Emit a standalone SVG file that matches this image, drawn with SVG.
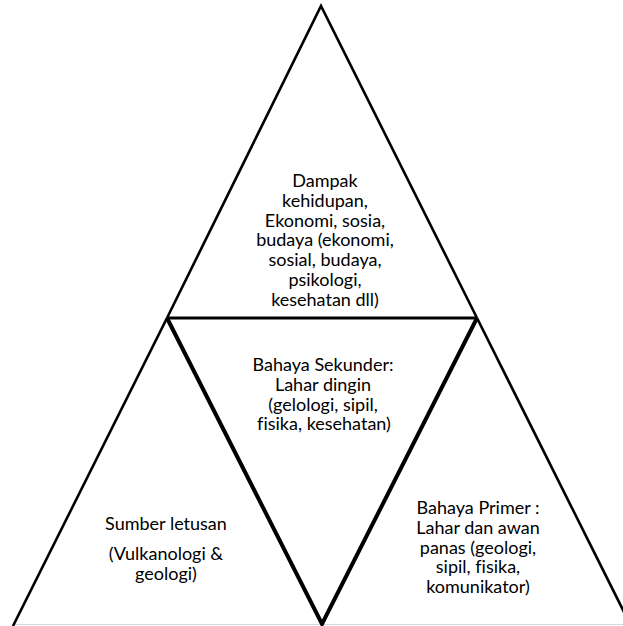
<svg xmlns="http://www.w3.org/2000/svg" width="623" height="626" viewBox="0 0 623 626">
<style>
.t{font-family:Lato,"Liberation Sans",sans-serif;font-size:18px;fill:#000;text-anchor:middle;font-variant-ligatures:none}
.edge{stroke:#000;stroke-width:2.6;fill:none;stroke-linejoin:miter}
.thick{stroke:#000;stroke-width:4;fill:none}
.base{stroke:#d9d9d9;stroke-width:1}
</style>
<rect width="623" height="626" fill="#fff"/>
<g id="connectors"></g>
<line class="base" x1="13" y1="624.5" x2="623" y2="624.5"/>
<g id="top">
<polyline class="edge" points="167,318 321,6 477,318"/>
<line x1="167" y1="318" x2="477" y2="318" stroke="#000" stroke-width="3"/>
<text class="t" x="325" y="187">Dampak</text>
<text class="t" x="325" y="206.8">kehidupan,</text>
<text class="t" x="325" y="226.6">Ekonomi, sosia,</text>
<text class="t" x="325" y="246.4">budaya (ekonomi,</text>
<text class="t" x="325" y="266.2">sosial, budaya,</text>
<text class="t" x="325" y="286">psikologi,</text>
<text class="t" x="325" y="305.8">kesehatan dll)</text>
</g>
<g id="middle">
<polyline class="thick" points="167,318 322,624 477,318"/>
<text class="t" x="323" y="371">Bahaya Sekunder:</text>
<text class="t" x="323" y="390.8">Lahar dingin</text>
<text class="t" x="323" y="410.6">(gelologi, sipil,</text>
<text class="t" x="324" y="430.4">fisika, kesehatan)</text>
</g>
<g id="left">
<line class="edge" x1="167" y1="318" x2="13" y2="626"/>
<text class="t" x="166" y="530">Sumber letusan</text>
<text class="t" x="166" y="560">(Vulkanologi &amp;</text>
<text class="t" x="166" y="580">geologi)</text>
</g>
<g id="right">
<line class="edge" x1="477" y1="318" x2="631" y2="626"/>
<text class="t" x="478" y="514">Bahaya Primer :</text>
<text class="t" x="478" y="533.8">Lahar dan awan</text>
<text class="t" x="478" y="553.6">panas (geologi,</text>
<text class="t" x="478" y="573.4">sipil, fisika,</text>
<text class="t" x="478" y="593.2">komunikator)</text>
</g>
</svg>
